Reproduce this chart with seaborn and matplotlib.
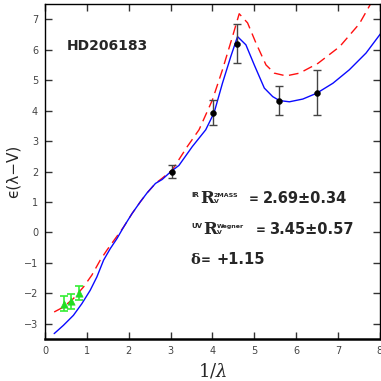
import numpy as np
import pandas as pd
import matplotlib
matplotlib.use("Agg")
import matplotlib.pyplot as plt
import seaborn as sns

# ---- data ----
blue_x = [0.22, 0.44, 0.68, 0.88, 1.08, 1.24, 1.40, 1.56, 1.72, 1.88, 2.08, 2.28, 2.44, 2.64, 2.80,
          3.00, 3.20, 3.52, 3.84, 4.04, 4.24, 4.44, 4.60, 4.80, 5.00, 5.24, 5.44, 5.60, 5.84,
          6.16, 6.49, 6.88, 7.27, 7.67, 8.03]
blue_y = [-3.32, -3.05, -2.72, -2.34, -1.90, -1.46, -0.91, -0.53, -0.20, 0.18, 0.62, 1.01, 1.30, 1.61, 1.74,
          1.99, 2.20, 2.82, 3.37, 3.93, 4.90, 5.78, 6.43, 6.16, 5.50, 4.74, 4.46, 4.33, 4.29,
          4.38, 4.57, 4.90, 5.34, 5.89, 6.55]

red_x = [0.22, 0.44, 0.68, 0.92, 1.12, 1.32, 1.48, 1.68, 1.88, 2.08, 2.28, 2.44, 2.64, 2.80, 3.04,
         3.40, 3.68, 4.00, 4.24, 4.48, 4.64, 4.84, 5.04, 5.28, 5.48, 5.76, 6.08, 6.52, 7.04,
         7.51, 7.79, 8.03]
red_y = [-2.61, -2.45, -2.17, -1.79, -1.40, -0.91, -0.58, -0.20, 0.18, 0.62, 1.01, 1.30, 1.61, 1.78, 2.05,
         2.82, 3.37, 4.35, 5.34, 6.43, 7.18, 6.88, 6.22, 5.50, 5.23, 5.14, 5.23, 5.55, 6.10,
         6.85, 7.53, 7.90]

uv_x = [3.04, 4.02, 4.58, 5.58, 6.49]
uv_y = [2.00, 3.93, 6.20, 4.32, 4.58]
uv_err = [0.22, 0.41, 0.65, 0.48, 0.74]

ir_x = [0.46, 0.62, 0.82]
ir_y = [-2.34, -2.26, -1.99]
ir_err = [0.25, 0.25, 0.22]

star = "HD206183"
rv_ir = "2.69±0.34"
rv_uv = "3.45±0.57"
delta = "+1.15"

sns.set_style("ticks")
plt.rcParams["font.family"] = ["DejaVu Sans"]
plt.rcParams["mathtext.fontset"] = "dejavuserif"

W = 381
fig = plt.figure(figsize=(3.81, 3.81), dpi=100)
ax = fig.add_axes([0.118, 0.110, 0.879, 0.8795])

blue_df = pd.DataFrame({"x": blue_x, "y": blue_y})
red_df = pd.DataFrame({"x": red_x, "y": red_y})

sns.lineplot(data=red_df, x="x", y="y", ax=ax, color="#ff1010", lw=1.0,
             sort=False, estimator=None)
ax.lines[-1].set_dashes([7, 4])
sns.lineplot(data=blue_df, x="x", y="y", ax=ax, color="#0a0aff", lw=1.0,
             sort=False, estimator=None)

ax.errorbar(uv_x, uv_y, yerr=uv_err, fmt="none", ecolor="#444444", elinewidth=1.0,
            capsize=3, capthick=1.0, zorder=3)
sns.scatterplot(x=uv_x, y=uv_y, ax=ax, color="black", s=18, marker="o",
                edgecolor="black", zorder=4)
ax.errorbar(ir_x, ir_y, yerr=ir_err, fmt="none", ecolor="#33ee33", elinewidth=1.2,
            capsize=3, capthick=1.2, zorder=3)
sns.scatterplot(x=ir_x, y=ir_y, ax=ax, color="#22dd22", s=28, marker="^",
                edgecolor="#22dd22", zorder=4)

ax.set_xlim(0, 8)
ax.set_ylim(-3.5, 7.5)
ax.set_xticks(range(0, 9))
ax.set_yticks(range(-3, 8))
ax.tick_params(direction="in", length=5, width=1, colors="#333333", labelsize=7,
               top=True, right=True, labeltop=False, labelright=False, pad=5)
for lab in ax.get_xticklabels() + ax.get_yticklabels():
    lab.set_color("#444444")
for s in ["top", "right", "left"]:
    ax.spines[s].set_linewidth(1.0)
    ax.spines[s].set_color("black")
ax.spines["bottom"].set_linewidth(1.8)
ax.spines["bottom"].set_color("black")

ax.set_xlabel(r"1/$\lambda$", fontsize=13, family="DejaVu Serif", labelpad=4)
ax.set_ylabel("ϵ(λ−V)", fontsize=11, family="DejaVu Sans", labelpad=2)


def ptext(x, y, s, **kw):
    fig.text(x / W, 1 - y / W, s, va="baseline", ha="left", **kw)


ptext(67, 50, star, fontsize=10, fontweight="bold")

# IR line
ptext(191, 197, "IR", fontsize=5, fontweight="bold")
ptext(200, 203, "R", fontsize=12, fontweight="bold", family="DejaVu Serif")
ptext(214, 197, "2MASS", fontsize=4.5, fontweight="bold")
ptext(214, 203, "V", fontsize=4.5, fontweight="bold")
ptext(249, 203, "=", fontsize=8.5, fontweight="bold")
ptext(263, 203, rv_ir, fontsize=10.5, fontweight="bold")

# UV line
ptext(191, 228, "UV", fontsize=5, fontweight="bold")
ptext(203, 234, "R", fontsize=12, fontweight="bold", family="DejaVu Serif")
ptext(217, 228, "Wegner", fontsize=4.5, fontweight="bold")
ptext(217, 234, "V", fontsize=4.5, fontweight="bold")
ptext(256, 234, "=", fontsize=8.5, fontweight="bold")
ptext(269, 234, rv_uv, fontsize=10.5, fontweight="bold")

# delta line
ptext(190, 264, "δ", fontsize=10.5, fontweight="bold", family="DejaVu Serif")
ptext(201, 264, "=", fontsize=8.5, fontweight="bold")
ptext(217, 264, delta, fontsize=10.5, fontweight="bold")

fig.savefig("out.png", dpi=100)
